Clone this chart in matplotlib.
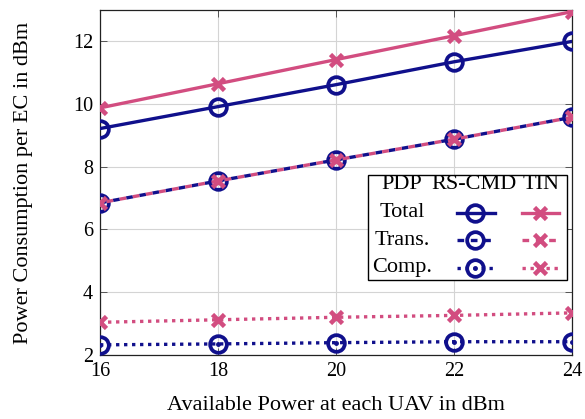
import matplotlib
matplotlib.use("Agg")
import matplotlib.pyplot as plt
from matplotlib.lines import Line2D
from matplotlib.patches import Rectangle

plt.rcParams['font.family'] = ['Liberation Serif', 'DejaVu Serif']
plt.rcParams['mathtext.fontset'] = 'stix'

power_dbm = [16, 18, 20, 22, 24]
rs_total = [9.22, 9.92, 10.62, 11.35, 12.0]
tin_total = [9.88, 10.65, 11.42, 12.18, 12.95]
rs_trans = [6.85, 7.55, 8.22, 8.88, 9.58]
tin_trans = [6.85, 7.55, 8.22, 8.88, 9.58]
rs_comp = [2.32, 2.35, 2.39, 2.42, 2.42]
tin_comp = [3.04, 3.12, 3.20, 3.26, 3.34]

x_ticks = [16, 18, 20, 22, 24]
y_ticks = [2, 4, 6, 8, 10, 12]

navy = '#10108c'
pink = '#d24d80'
lw = 2.4
dash = (0, (2.0, 2.0))
dash_shifted = (2.0, (2.0, 2.0))
dot = (0, (1.0, 1.4))

fig = plt.figure(figsize=(5.85, 4.19), dpi=100)
ax = fig.add_axes([0.171, 0.153, 0.807, 0.823])

circ = dict(marker='o', markersize=12, markerfacecolor='none',
            markeredgewidth=2.7)
cross = dict(marker='x', markersize=9, markeredgewidth=3.3)

ax.plot(power_dbm, rs_total, color=navy, lw=lw, ls='-', **circ, zorder=3)
ax.plot(power_dbm, tin_total, color=pink, lw=lw, ls='-', **cross, zorder=3)
ax.plot(power_dbm, rs_trans, color=navy, lw=lw, ls=dash, **circ, zorder=3)
ax.plot(power_dbm, tin_trans, color=pink, lw=lw, ls=dash_shifted,
        **cross, zorder=4)
ax.plot(power_dbm, rs_comp, color=navy, lw=lw, ls=dot, **circ, zorder=3)
ax.plot(power_dbm, rs_comp, color=navy, ls='none', marker='o',
        markersize=2.5, zorder=3)
ax.plot(power_dbm, tin_comp, color=pink, lw=lw, ls=dot, **cross, zorder=3)

ax.set_xlim(16, 24)
ax.set_ylim(2, 13)
ax.set_xticks(x_ticks)
ax.set_yticks(y_ticks)
ax.grid(True, color='#d4d4d4', lw=0.8)
ax.set_axisbelow(True)
ax.tick_params(direction='in', length=5, width=0.7, labelsize=14.5,
               top=True, right=True, color='#555555', pad=5)
for s in ax.spines.values():
    s.set_linewidth(0.9)
    s.set_color('#222222')

ax.set_xlabel('Available Power at each UAV in dBm', fontsize=16)
ax.set_ylabel('Power Consumption per EC in dBm', fontsize=16)
ax.xaxis.set_label_coords(0.5, -0.12)
ax.yaxis.set_label_coords(-0.143, 0.5)

# Table-style legend drawn in axes coordinates
tr = ax.transAxes
ax.add_patch(Rectangle((0.568, 0.217), 0.421, 0.305, transform=tr,
                       facecolor='white', edgecolor='black', lw=1.0,
                       zorder=6))
fs = 16
ax.text(0.640, 0.493, 'PDP', transform=tr, ha='center', va='center',
        fontsize=fs, zorder=7)
ax.text(0.792, 0.493, 'RS-CMD', transform=tr, ha='center', va='center',
        fontsize=fs, zorder=7)
ax.text(0.934, 0.493, 'TIN', transform=tr, ha='center', va='center',
        fontsize=fs, zorder=7)

rows = [
    ('Total', 0.4125, '-', '-'),
    ('Trans.', 0.333, dash, dash),
    ('Comp.', 0.253, dot, dot),
]
for i, (name, yy, ls_rs, ls_tin) in enumerate(rows):
    ax.text(0.640, yy, name, transform=tr, ha='center', va='center',
            fontsize=fs, zorder=7)
    ax.add_line(Line2D([0.756, 0.837], [yy, yy], transform=tr, color=navy,
                       lw=lw, ls=ls_rs, zorder=7))
    ax.add_line(Line2D([0.794], [yy], transform=tr, color=navy, ls='none',
                       **circ, zorder=8))
    if i == 2:
        ax.add_line(Line2D([0.794], [yy], transform=tr, color=navy,
                           ls='none', marker='o', markersize=2.5, zorder=8))
    ax.add_line(Line2D([0.894, 0.972], [yy, yy], transform=tr, color=pink,
                       lw=lw, ls=ls_tin, zorder=7))
    ax.add_line(Line2D([0.932], [yy], transform=tr, color=pink, ls='none',
                       **cross, zorder=8))

fig.savefig('out.png', dpi=100)
